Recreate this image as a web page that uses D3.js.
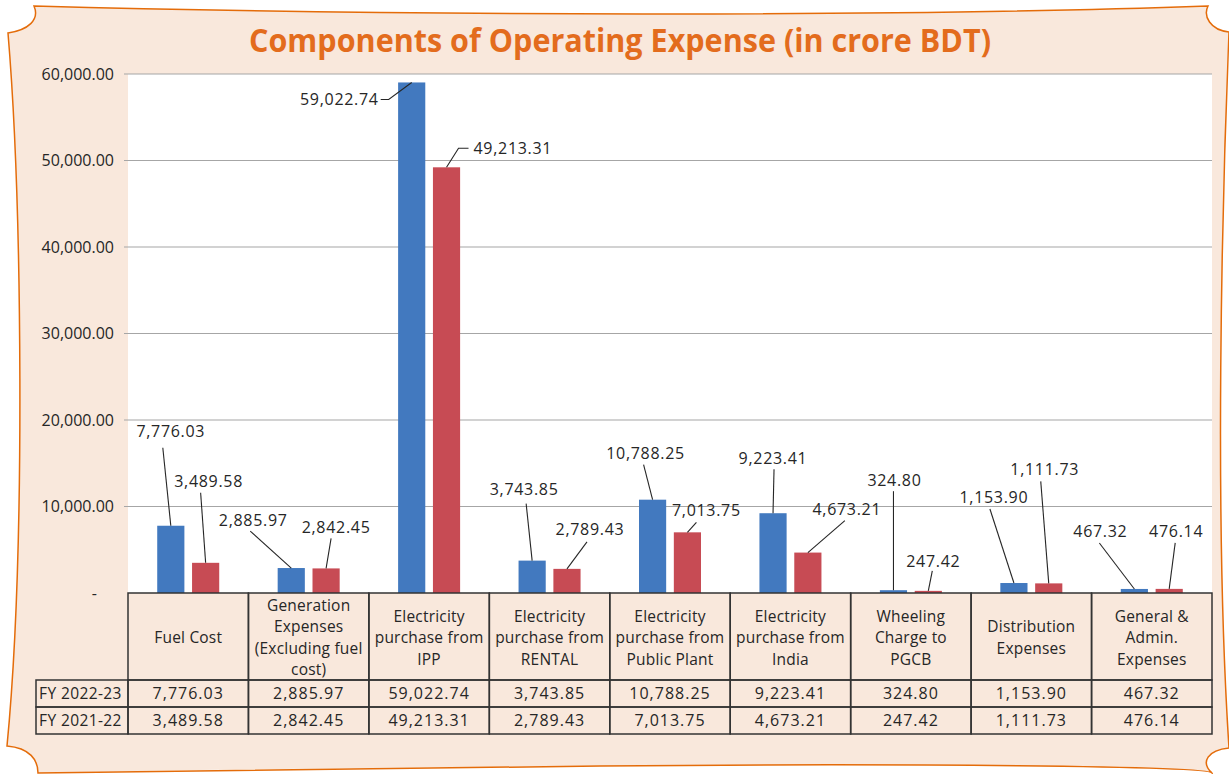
<!DOCTYPE html>
<html>
<head>
<meta charset="utf-8">
<script src="https://cdn.jsdelivr.net/npm/d3@7"></script>
<style>
  body { margin: 0; background: #fff; }
  text { font-family: "Open Sans", "DejaVu Sans", sans-serif; fill: #262626; }
</style>
</head>
<body>
<svg width="1229" height="774"></svg>
<script>
// data
const categories = ["Fuel Cost", "Generation Expenses (Excluding fuel cost)", "Electricity purchase from IPP",
  "Electricity purchase from RENTAL", "Electricity purchase from Public Plant", "Electricity purchase from India",
  "Wheeling Charge to PGCB", "Distribution Expenses", "General & Admin. Expenses"]
const headerLines = [["Fuel Cost"], ["Generation", "Expenses", "(Excluding fuel", "cost)"],
  ["Electricity", "purchase from", "IPP"], ["Electricity", "purchase from", "RENTAL"],
  ["Electricity", "purchase from", "Public Plant"], ["Electricity", "purchase from", "India"],
  ["Wheeling", "Charge to", "PGCB"], ["Distribution", "Expenses"], ["General &", "Admin.", "Expenses"]]
const seriesNames = ["FY 2022-23", "FY 2021-22"]
const fy2223 = [7776.03, 2885.97, 59022.74, 3743.85, 10788.25, 9223.41, 324.80, 1153.90, 467.32]
const fy2122 = [3489.58, 2842.45, 49213.31, 2789.43, 7013.75, 4673.21, 247.42, 1111.73, 476.14]
const yTicks = [0, 10000, 20000, 30000, 40000, 50000, 60000]
const colors = ["#4279bf", "#c74b54"]

// label placement, relative to the top centre of each bar: [labelDx, labelDy, anchor, leader points...]
const labelPlace = [
  [[0, -94, "middle", [-8, -78]], [3, -82, "middle", [-5, -70]]],
  [[-38, -48, "middle", [-41, -37]], [10, -41, "middle", [5, -30]]],
  [[-33, 17, "end", [-31, 17], [-23, 17]], [27, -19, "start", [22, -19], [12, -19]]],
  [[-8, -71, "middle", [-6, -57]], [23, -40, "middle", [20, -27]]],
  [[-7, -46, "middle", [-9, -35]], [19, -22, "middle", [9, -10]]],
  [[0, -55, "middle", [1, -44]], [39, -43, "middle", [37, -32]]],
  [[1, -110, "middle", [0, -99]], [5, -30, "middle", [4, -20]]],
  [[-20, -86, "middle", [-24, -74]], [-4, -114, "middle", [-8, -102]]],
  [[-34, -58, "middle", [-35, -46]], [7, -58, "middle", [6, -46]]]
]

const svg = d3.select("svg")
const fmt = d3.format(",.2f")

const plot = { left: 128, right: 1212, top: 74, bottom: 593 }
const tableX0 = 36, headerBottom = 680, rowH = 27

// paper frame
svg.append("path")
  .attr("d", "M34,6 C400,16 900,17 1208,6 C1203,16 1210,30 1229,32 C1222,200 1214,520 1229,748 " +
    "C1208,750 1200,762 1212,773 C1210,766 900,763 600,766 C300,768 100,771 38,773 " +
    "C38,760 30,748 7,746 C26,550 22,200 8,33 C28,30 40,20 34,6 Z")
  .attr("fill", "#f9e8dc")
  .attr("stroke", "#e46c0a")
  .attr("stroke-width", 1.5)

// title
svg.append("text")
  .attr("x", 620).attr("y", 52)
  .attr("text-anchor", "middle")
  .attr("textLength", 742)
  .attr("lengthAdjust", "spacingAndGlyphs")
  .style("font-size", "33px")
  .style("font-weight", "bold")
  .style("fill", "#e36c1d")
  .text("Components of Operating Expense (in crore BDT)")

// plot area
svg.append("rect")
  .attr("x", plot.left).attr("y", plot.top)
  .attr("width", plot.right - plot.left).attr("height", plot.bottom - plot.top)
  .attr("fill", "#fff")

const x = d3.scaleBand().domain(categories).range([plot.left, plot.right])
const y = d3.scaleLinear().domain([0, 60000]).range([plot.bottom, plot.top])
const bw = x.bandwidth()
const xs = d3.scaleBand().domain(seriesNames).range([bw / 2 - 31, bw / 2 + 31]).paddingInner(0.22)

// gridlines + ticks
svg.append("g").selectAll("line")
  .data(yTicks.filter(t => t > 0))
  .enter().append("line")
  .attr("x1", plot.left - 4).attr("x2", plot.right)
  .attr("y1", d => y(d)).attr("y2", d => y(d))
  .attr("stroke", "#a6a6a6").attr("stroke-width", 1.2)

svg.append("g").selectAll("text")
  .data(yTicks)
  .enter().append("text")
  .attr("x", d => d === 0 ? 97 : 114)
  .attr("y", d => y(d))
  .attr("dy", "0.35em")
  .attr("text-anchor", "end")
  .style("font-size", "16px")
  .text(d => d === 0 ? "-" : fmt(d))

// bars
const series = [fy2223, fy2122]
const bars = []
categories.forEach((c, i) => {
  series.forEach((s, j) => {
    bars.push({ cat: c, i: i, j: j, value: s[i], name: seriesNames[j] })
  })
})

svg.append("g").selectAll("rect")
  .data(bars)
  .enter().append("rect")
  .attr("x", d => x(d.cat) + xs(d.name))
  .attr("width", xs.bandwidth())
  .attr("y", d => y(d.value))
  .attr("height", d => plot.bottom - y(d.value))
  .attr("fill", d => colors[d.j])

// data labels with leader lines
const lab = svg.append("g")
bars.forEach(d => {
  let p = labelPlace[d.i][d.j]
  let bx = x(d.cat) + xs(d.name) + xs.bandwidth() / 2
  let by = y(d.value)
  let pts = p.slice(3).map(q => [bx + q[0], by + q[1]])
  pts.push([bx, by])
  lab.append("path")
    .attr("d", d3.line()(pts))
    .attr("fill", "none")
    .attr("stroke", "#262626")
    .attr("stroke-width", 1.1)
  lab.append("text")
    .attr("x", bx + p[0]).attr("y", by + p[1])
    .attr("dy", "0.36em")
    .attr("text-anchor", p[2])
    .style("font-size", "16px")
    .style("letter-spacing", "0.7px")
    .text(fmt(d.value))
})

// data table
const tbl = svg.append("g")
const lineColor = "#333"
// header cells
tbl.append("g").selectAll("rect")
  .data(categories)
  .enter().append("rect")
  .attr("x", d => x(d)).attr("y", plot.bottom)
  .attr("width", bw).attr("height", headerBottom - plot.bottom)
  .attr("fill", "none").attr("stroke", lineColor).attr("stroke-width", 1.5)

headerLines.forEach((lines, i) => {
  let cx = x(categories[i]) + bw / 2
  let cy = (plot.bottom + headerBottom) / 2 + 1
  lines.forEach((ln, k) => {
    tbl.append("text")
      .attr("x", cx)
      .attr("y", cy + (k - (lines.length - 1) / 2) * 21.5)
      .attr("dy", "0.36em")
      .attr("text-anchor", "middle")
      .style("font-size", "15.5px")
      .style("letter-spacing", "0.2px")
      .text(ln)
  })
})

series.forEach((s, j) => {
  let ry = headerBottom + j * rowH
  tbl.append("rect")
    .attr("x", tableX0).attr("y", ry)
    .attr("width", plot.left - tableX0).attr("height", rowH)
    .attr("fill", "none").attr("stroke", lineColor).attr("stroke-width", 1.5)
  tbl.append("text")
    .attr("x", tableX0 + 3).attr("y", ry + rowH / 2)
    .attr("dy", "0.36em")
    .style("font-size", "15.5px")
    .style("letter-spacing", "0.4px")
    .text(seriesNames[j])
  categories.forEach((c, i) => {
    tbl.append("rect")
      .attr("x", x(c)).attr("y", ry)
      .attr("width", bw).attr("height", rowH)
      .attr("fill", "none").attr("stroke", lineColor).attr("stroke-width", 1.5)
    tbl.append("text")
      .attr("x", x(c) + bw / 2).attr("y", ry + rowH / 2)
      .attr("dy", "0.36em")
      .attr("text-anchor", "middle")
      .style("font-size", "16px")
      .style("letter-spacing", "1px")
      .text(fmt(s[i]))
  })
})
</script>
</body>
</html>
